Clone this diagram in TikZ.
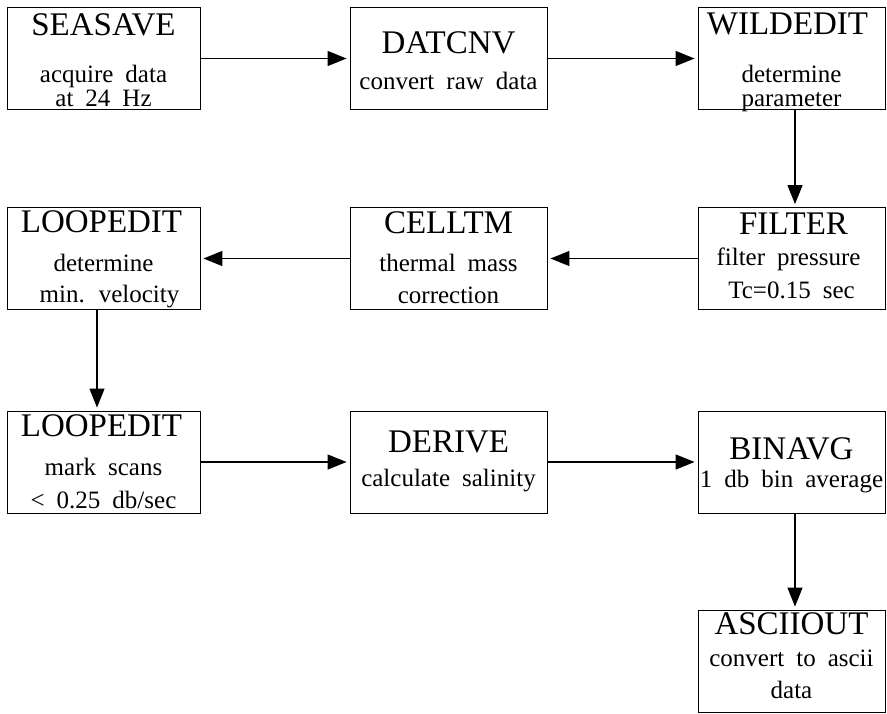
\documentclass[tikz,border=0pt]{standalone}
\usepackage{fontspec}
\setmainfont{Liberation Serif}
\usetikzlibrary{arrows.meta,calc}
\newcommand\subfontsel{\fontsize{25}{25}\selectfont\spaceskip 12pt plus 2pt\relax}
\begin{document}
\begin{tikzpicture}[x=1pt,y=-1pt,
  box/.style={draw, line width=0.9pt, inner sep=0pt, minimum height=102pt},
  lbox/.style={box, minimum width=193pt},
  mbox/.style={box, minimum width=197pt},
  rbox/.style={box, minimum width=187pt},
  ttl/.style={anchor=base, inner sep=0pt, font=\fontsize{33}{33}\selectfont},
  sub/.style={anchor=base, inner sep=0pt, font=\subfontsel},
  flow/.style={line width=1.3pt, -{Triangle[length=19pt,width=15pt]}, shorten >=3pt}]
\useasboundingbox (0,0) rectangle (887,713);
% boxes
\node[lbox] (sea)   at (103.5,58.5) {};
\node[mbox] (dat)   at (448.5,58.5) {};
\node[rbox] (wild)  at (791.5,58.5) {};
\node[rbox] (filt)  at (791.5,258.5) {};
\node[mbox] (cell)  at (448.5,258.5) {};
\node[lbox] (loopa) at (103.5,258.5) {};
\node[lbox] (loopb) at (103.5,462) {};
\node[mbox] (der)   at (448.5,462) {};
\node[rbox] (bin)   at (791.5,462) {};
\node[rbox] (asc)   at (791.5,661) {};
% texts
\node[ttl] (sea-t) at ($(sea.north)+(0,28)$) {SEASAVE};
\node[sub] (sea-1) at ($(sea.north)+(0,75)$) {acquire data};
\node[sub] (sea-2) at ($(sea.north)+(0,99)$) {at 24 Hz};
\node[ttl] (dat-t) at ($(dat.north)+(0,46)$) {DATCNV};
\node[sub] (dat-1) at ($(dat.north)+(0,82)$) {convert raw data};
\node[ttl] (wild-t) at ($(wild.north)+(-4,27)$) {WILDEDIT};
\node[sub] (wild-1) at ($(wild.north)+(0,75)$) {determine};
\node[sub] (wild-2) at ($(wild.north)+(0,99)$) {parameter};
\node[ttl] (filt-t) at ($(filt.north)+(2,27)$) {FILTER};
\node[sub] (filt-1) at ($(filt.north)+(-3,58)$) {filter pressure};
\node[sub] (filt-2) at ($(filt.north)+(0,91)$) {Tc=0.15 sec};
\node[ttl] (cell-t) at ($(cell.north)+(0,26)$) {CELLTM};
\node[sub] (cell-1) at ($(cell.north)+(0,64)$) {thermal mass};
\node[sub] (cell-2) at ($(cell.north)+(0,96)$) {correction};
\node[ttl] (loopa-t) at ($(loopa.north)+(-2,25)$) {LOOPEDIT};
\node[sub] (loopa-1) at ($(loopa.north)+(0,64)$) {determine};
\node[sub] (loopa-2) at ($(loopa.north)+(6,95)$) {min. velocity};
\node[ttl] (loopb-t) at ($(loopb.north)+(-2,26)$) {LOOPEDIT};
\node[sub] (loopb-1) at ($(loopb.north)+(0,65)$) {mark scans};
\node[sub] (loopb-2) at ($(loopb.north)+(0,98)$) {< 0.25 db/sec};
\node[ttl] (der-t) at ($(der.north)+(0,42)$) {DERIVE};
\node[sub] (der-1) at ($(der.north)+(0,76)$) {calculate salinity};
\node[ttl] (bin-t) at ($(bin.north)+(0,49)$) {BINAVG};
\node[sub] (bin-1) at ($(bin.north)+(0,77)$) {1 db bin average};
\node[ttl] (asc-t) at ($(asc.north)+(0,25)$) {ASCIIOUT};
\node[sub] (asc-1) at ($(asc.north)+(0,57)$) {convert to ascii};
\node[sub] (asc-2) at ($(asc.north)+(0,89)$) {data};
% connectors
\draw[flow] (sea.east) -- (dat.west);
\draw[flow] (dat.east) -- (wild.west);
\draw[flow] ([xshift=3.5pt]wild.south) -- ([xshift=3.5pt]filt.north);
\draw[flow] (filt.west) -- (cell.east);
\draw[flow] (cell.west) -- (loopa.east);
\draw[flow] ([xshift=-6.5pt]loopa.south) -- ([xshift=-6.5pt]loopb.north);
\draw[flow] (loopb.east) -- (der.west);
\draw[flow] (der.east) -- (bin.west);
\draw[flow] ([xshift=3.5pt]bin.south) -- ([xshift=3.5pt]asc.north);
\end{tikzpicture}
\end{document}
